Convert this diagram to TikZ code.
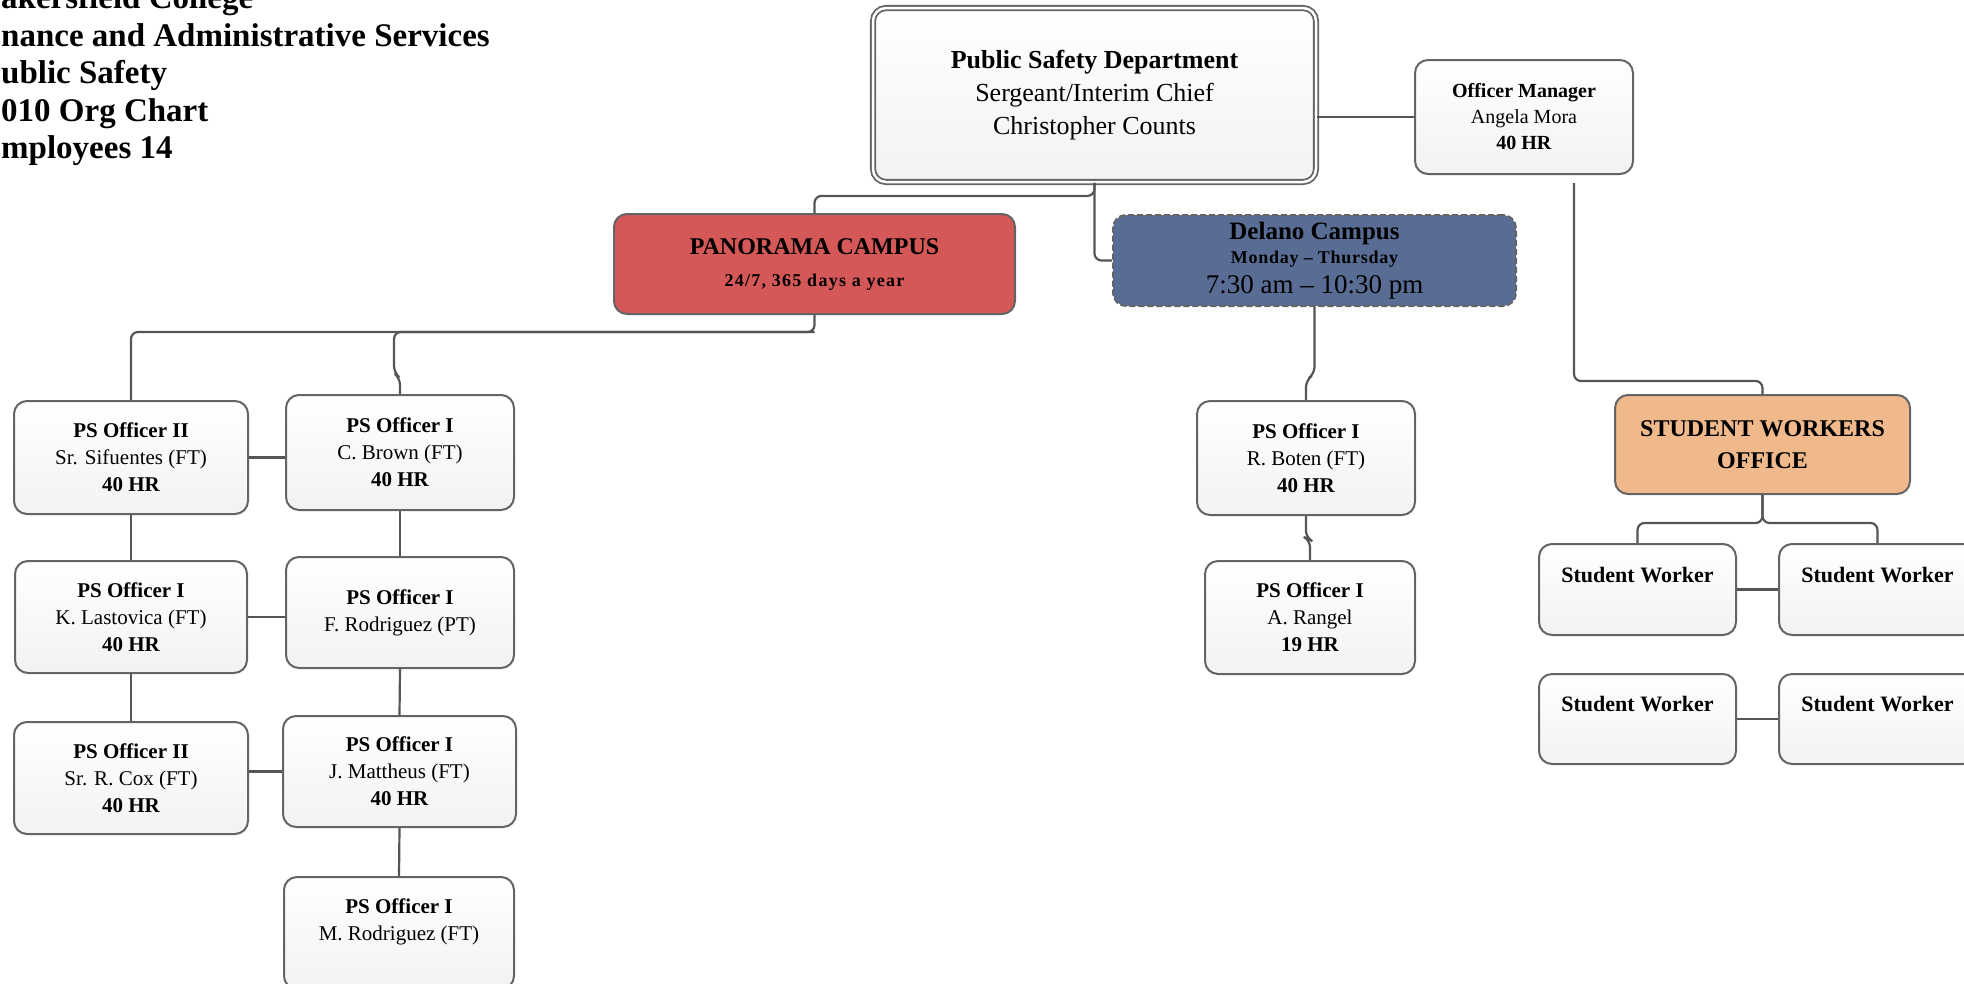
\documentclass[tikz,border=0pt]{standalone}
\usepackage{fontspec}
\setmainfont{Liberation Serif}
\usetikzlibrary{calc}
\definecolor{panred}{RGB}{213,88,88}
\definecolor{delblue}{RGB}{88,108,148}
\definecolor{sworange}{RGB}{240,185,140}
\definecolor{linegray}{RGB}{85,85,85}
\definecolor{bordergray}{RGB}{100,100,100}
\newcommand\fsz[2]{\fontsize{#1}{#2}\selectfont}
\begin{document}
\begin{tikzpicture}[x=1pt,y=-1pt,
  orgbox/.style={draw=bordergray, line width=2pt, rounded corners=13pt, top color=white, bottom color=black!5, align=center, inner sep=0pt, text=black},
  officer/.style={orgbox, font=\fsz{21}{27}},
  titleline/.style={anchor=base west, inner sep=0pt, font=\fsz{33}{37.5}\bfseries},
  conn/.style={draw=linegray, line width=2.2pt, rounded corners=7pt},
  ]
\useasboundingbox (0,0) rectangle (1964,983);
\clip (0,0) rectangle (1964,983);

% title
\node[titleline] (t1) at (1,8.5) {akersfield College};
\node[titleline] (t2) at (1,46) {nance and Administrative Services};
\node[titleline] (t3) at (1,83.5) {ublic Safety};
\node[titleline] (t4) at (1,121) {010 Org Chart};
\node[titleline] (t5) at (1,158.5) {mployees 14};

% top
\node[orgbox, draw=bordergray, line width=1.8pt, double=white, double distance=2.5pt, minimum width=443, minimum height=174, font=\fsz{26}{33}] (PSD) at (1094.5,95)
  {\textbf{Public Safety Department}\\Sergeant/Interim Chief\\Christopher Counts};
\node[orgbox, minimum width=218, minimum height=114, font=\fsz{20}{26}] (OM) at (1524,117)
  {\textbf{Officer Manager}\\Angela Mora\\\textbf{40 HR}};

% campuses
\node[orgbox, fill=panred, top color=panred, bottom color=panred, minimum width=401, minimum height=100] (Pan) at (814.5,264) {};
\node[font=\fsz{24}{30}\bfseries, inner sep=0pt] (pant1) at ($(Pan.center)+(0,-17)$) {PANORAMA CAMPUS};
\node[font=\fsz{18}{20}\bfseries\addfontfeature{LetterSpace=7}, inner sep=0pt] (pant2) at ($(Pan.center)+(0,18)$) {24/7, 365 days a year};

\node[orgbox, dashed, dash pattern=on 6pt off 3pt, top color=delblue, bottom color=delblue, minimum width=403, minimum height=91] (Del) at (1314.5,260.5) {};
\node[font=\fsz{25}{30}\bfseries, inner sep=0pt] (delt1) at ($(Del.center)+(0,-27.5)$) {Delano Campus};
\node[font=\fsz{18}{20}\bfseries\addfontfeature{LetterSpace=4}, inner sep=0pt] (delt2) at ($(Del.center)+(0,-1.5)$) {Monday – Thursday};
\node[font=\fsz{27}{30}, inner sep=0pt] (delt3) at ($(Del.center)+(0,26.5)$) {7:30 am – 10:30 pm};

% Panorama officers
\node[officer, minimum width=234, minimum height=113] (Sif) at (131,457.5) {\textbf{PS Officer II}\\Sr. Sifuentes (FT)\\\textbf{40 HR}};
\node[officer, minimum width=228, minimum height=115] (Brown) at (400,452.5) {\textbf{PS Officer I}\\C. Brown (FT)\\\textbf{40 HR}};
\node[officer, minimum width=232, minimum height=112] (Last) at (131,617) {\textbf{PS Officer I}\\K. Lastovica (FT)\\\textbf{40 HR}};
\node[officer, minimum width=228, minimum height=111] (FRod) at (400,612.5) {\textbf{PS Officer I}\\F. Rodriguez (PT)};
\node[officer, minimum width=234, minimum height=112] (Cox) at (131,778) {\textbf{PS Officer II}\\Sr. R. Cox (FT)\\\textbf{40 HR}};
\node[officer, minimum width=233, minimum height=111] (Matt) at (399.5,771.5) {\textbf{PS Officer I}\\J. Mattheus (FT)\\\textbf{40 HR}};
\node[officer, minimum width=230, minimum height=112] (MRod) at (399,933) {\textbf{PS Officer I}\\M. Rodriguez (FT)\\\mbox{}};

% Delano officers
\node[officer, minimum width=218, minimum height=114] (Boten) at (1306,458) {\textbf{PS Officer I}\\R. Boten (FT)\\\textbf{40 HR}};
\node[officer, minimum width=210, minimum height=113] (Rangel) at (1310,617.5) {\textbf{PS Officer I}\\A. Rangel\\\textbf{19 HR}};

% student workers
\node[orgbox, top color=sworange, bottom color=sworange, minimum width=295, minimum height=99, font=\fsz{24}{32}\bfseries] (SWO) at (1762.5,444.5) {STUDENT WORKERS\\OFFICE};
\node[orgbox, minimum width=197, minimum height=91, font=\fsz{22}{30}\bfseries] (SW1) at (1637.5,589.5) {Student Worker\\\mbox{}};
\node[orgbox, minimum width=197, minimum height=91, font=\fsz{22}{30}\bfseries] (SW2) at (1877.5,589.5) {Student Worker\\\mbox{}};
\node[orgbox, minimum width=197, minimum height=90, font=\fsz{22}{30}\bfseries] (SW3) at (1637.5,719) {Student Worker\\\mbox{}};
\node[orgbox, minimum width=197, minimum height=90, font=\fsz{22}{30}\bfseries] (SW4) at (1877.5,719) {Student Worker\\\mbox{}};

% connectors
\draw[conn] (PSD.south) -- ++(0,13) -| (Pan.north);
\draw[conn] (PSD.south) |- (Del.west);
\draw[conn] (PSD.east |- OM.west) -- (OM.west);

\coordinate (pj) at ($(Pan.south)+(0,17)$);
\draw[conn] (Pan.south) -- (pj) -| (Sif.north);
\draw[conn] (pj) -| ($(Brown.north)+(-6,-21)$) -- ($(Brown.north)+(0,-16)$) -- (Brown.north);
\draw[conn] (Sif.east) -- (Sif.east -| Brown.west);
\draw[conn] (Sif.south) -- (Last.north);
\draw[conn] (Last.east) -- (Last.east -| FRod.west);
\draw[conn] (Last.south) -- (Cox.north);
\draw[conn] (Brown.south) -- (FRod.north);
\draw[conn] (FRod.south) -- (Matt.north);
\draw[conn] (Cox.east |- Matt.west) -- (Matt.west);
\draw[conn] (Matt.south) -- (MRod.north);

\draw[conn] (Del.south) -- ($(Del.south |- Boten.north)+(0,-26)$) -- ($(Boten.north)+(0,-20)$) -- (Boten.north);
\draw[conn] (Boten.south) -- ($(Boten.south)+(0,22)$) -- ($(Rangel.north)+(0,-20)$) -- (Rangel.north);

\coordinate (omdrop) at ($(OM.south)+(50,8)$);
\draw[conn] (omdrop) |- ($(SWO.north)+(0,-13)$) -- (SWO.north);
\coordinate (swj) at ($(SWO.south)+(0,28)$);
\draw[conn] (SWO.south) -- (swj) -| (SW1.north);
\draw[conn] (SWO.south) -- (swj) -| (SW2.north);
\draw[conn] (SW1.east) -- (SW2.west);
\draw[conn] (SW3.east) -- (SW4.west);
\end{tikzpicture}
\end{document}
